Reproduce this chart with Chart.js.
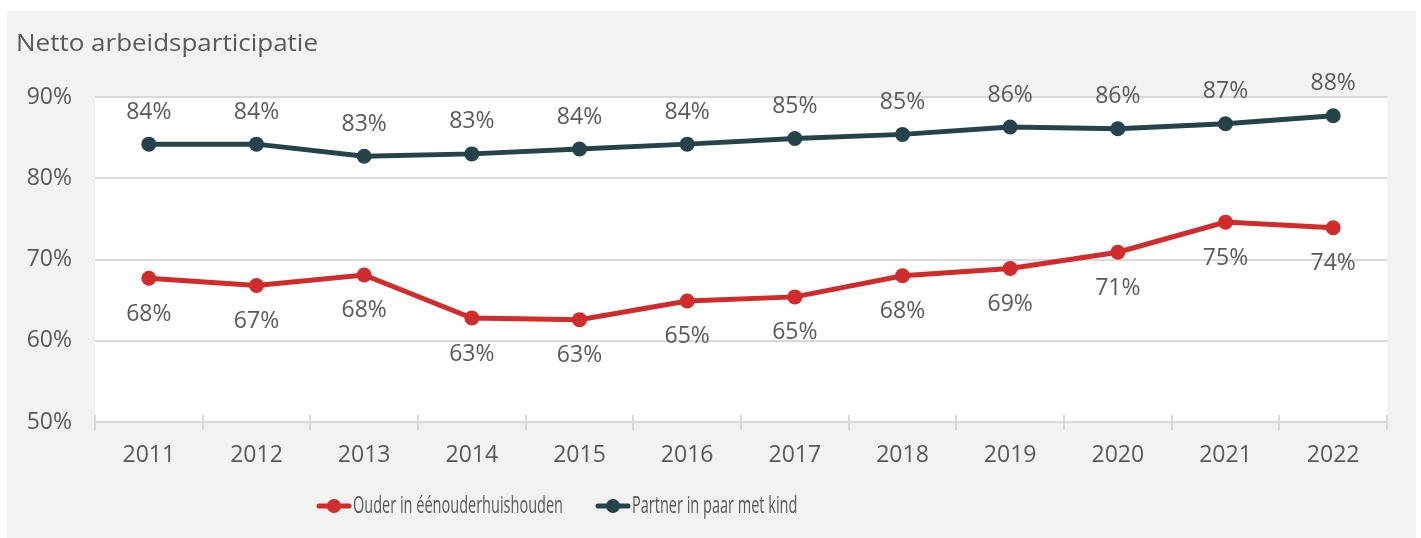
<!DOCTYPE html>
<html>
<head>
<meta charset="utf-8">
<script src="https://cdn.jsdelivr.net/npm/chart.js@4.4.0/dist/chart.umd.min.js"></script>
<style>
  body { margin: 0; background: #fff; }
  #wrap { position: absolute; left: 7px; top: 11px; width: 1409px; height: 527px; background: #f2f2f2; }
</style>
</head>
<body>
<div id="wrap"><canvas id="chartArbeid" width="1409" height="527"></canvas></div>
<script>
const jaren = ['2011', '2012', '2013', '2014', '2015', '2016', '2017', '2018', '2019', '2020', '2021', '2022'];
const ouderEenouder = [67.7, 66.8, 68.1, 62.8, 62.6, 64.9, 65.4, 68.0, 68.9, 70.9, 74.6, 73.9];
const partnerPaar = [84.2, 84.2, 82.7, 83.0, 83.6, 84.2, 84.9, 85.4, 86.3, 86.1, 86.7, 87.7];
const reeksNamen = ['Ouder in éénouderhuishouden', 'Partner in paar met kind'];
const titel = 'Netto arbeidsparticipatie';

const rood = '#d12b2b';
const donker = '#25434a';
const grijs = '#595959';
const lijnGrijs = '#d9d9d9';
const fontFam = "'Open Sans', Lato, sans-serif";

// witte achtergrond van het plotgebied
const plotAchtergrond = {
    id: 'plotAchtergrond',
    beforeDraw(chart) {
        const { ctx, chartArea: a } = chart;
        ctx.save();
        ctx.fillStyle = '#fff';
        ctx.fillRect(a.left, a.top, a.right - a.left, a.bottom - a.top);
        ctx.restore();
    }
};

// streepjes tussen de jaren op de x-as
const asStreepjes = {
    id: 'asStreepjes',
    afterDatasetsDraw(chart) {
        const { ctx } = chart;
        const xs = chart.scales.x;
        const n = jaren.length;
        ctx.save();
        ctx.strokeStyle = lijnGrijs;
        ctx.lineWidth = 2;
        for (let i = 0; i <= n; i++) {
            const x = Math.round(xs.left + i * (xs.width / n));
            ctx.beginPath();
            ctx.moveTo(x, xs.top - 7);
            ctx.lineTo(x, xs.top + 8);
            ctx.stroke();
        }
        ctx.restore();
    }
};

// waardelabels: donkere reeks erboven, rode reeks eronder
const waardeLabels = {
    id: 'waardeLabels',
    afterDatasetsDraw(chart) {
        const { ctx } = chart;
        ctx.save();
        ctx.font = `23px ${fontFam}`;
        ctx.fillStyle = grijs;
        ctx.textAlign = 'center';
        ctx.textBaseline = 'middle';
        chart.data.datasets.forEach((ds, i) => {
            const meta = chart.getDatasetMeta(i);
            const dy = i === 0 ? 36 : -32;
            meta.data.forEach((pt, j) => {
                ctx.fillText(Math.round(ds.data[j]) + '%', pt.x, pt.y + dy);
            });
        });
        ctx.restore();
    }
};

// titel en legenda
const titelLegenda = {
    id: 'titelLegenda',
    afterDraw(chart) {
        const { ctx } = chart;
        ctx.save();
        ctx.font = `24px ${fontFam}`;
        ctx.fillStyle = grijs;
        ctx.textBaseline = 'middle';
        const tx = 302 / ctx.measureText(titel).width;
        ctx.save();
        ctx.translate(9, 33);
        ctx.scale(tx, 1);
        ctx.fillText(titel, 0, 0);
        ctx.restore();

        const kleuren = [rood, donker];
        const sx = 210 / ctx.measureText(reeksNamen[0]).width;
        let x = 310;
        const y = 495;
        reeksNamen.forEach((naam, i) => {
            ctx.strokeStyle = kleuren[i];
            ctx.fillStyle = kleuren[i];
            ctx.lineWidth = 5;
            ctx.lineCap = 'round';
            ctx.beginPath();
            ctx.moveTo(x + 2, y);
            ctx.lineTo(x + 32, y);
            ctx.stroke();
            ctx.beginPath();
            ctx.arc(x + 17, y, 7, 0, Math.PI * 2);
            ctx.fill();
            x += 36;
            const w = ctx.measureText(naam).width * sx;
            ctx.save();
            ctx.translate(x, y);
            ctx.scale(sx, 1);
            ctx.fillStyle = grijs;
            ctx.fillText(naam, 0, 0);
            ctx.restore();
            x += w + 33;
        });
        ctx.restore();
    }
};

const ctx = document.getElementById('chartArbeid').getContext('2d');

const chartArbeid = new Chart(ctx, {
    type: 'line',
    data: {
        labels: jaren,
        datasets: [{
            label: reeksNamen[0],
            data: ouderEenouder,
            borderColor: rood,
            backgroundColor: rood,
            borderWidth: 5,
            pointRadius: 7.5,
            pointBorderWidth: 0,
            pointBackgroundColor: rood
        }, {
            label: reeksNamen[1],
            data: partnerPaar,
            borderColor: donker,
            backgroundColor: donker,
            borderWidth: 5,
            pointRadius: 7.5,
            pointBorderWidth: 0,
            pointBackgroundColor: donker
        }]
    },
    options: {
        responsive: false,
        animation: false,
        layout: { padding: { top: 86, right: 29, left: 0, bottom: 0 } },
        plugins: {
            legend: { display: false },
            tooltip: { enabled: false }
        },
        scales: {
            x: {
                offset: true,
                grid: { display: false },
                border: { color: lijnGrijs, width: 2 },
                ticks: { color: grijs, font: { family: fontFam, size: 23 }, padding: 12, maxRotation: 0 },
                afterFit(s) { s.height = 116; }
            },
            y: {
                min: 50,
                max: 90,
                ticks: {
                    stepSize: 10,
                    color: grijs,
                    font: { family: fontFam, size: 23 },
                    padding: 23,
                    callback: v => v + '%'
                },
                grid: { color: lijnGrijs, lineWidth: 2, drawTicks: false },
                border: { display: false },
                afterFit(s) { s.width = 88; }
            }
        }
    },
    plugins: [plotAchtergrond, asStreepjes, waardeLabels, titelLegenda]
});
</script>
</body>
</html>
